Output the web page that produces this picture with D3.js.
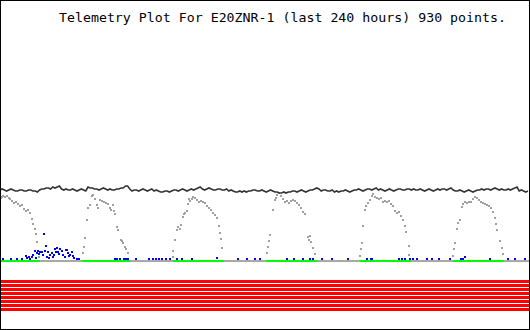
<!DOCTYPE html>
<html>
<head>
<meta charset="utf-8">
<script src="https://cdn.jsdelivr.net/npm/d3@7"></script>
<style>
  html, body { margin: 0; padding: 0; background: #fff; }
  svg { display: block; }
</style>
</head>
<body>
<svg id="chart" width="530" height="330"></svg>
<script>
// Telemetry for E20ZNR-1 over the last 240 hours (raw 0-255 counts)
const titleText = "Telemetry Plot For E20ZNR-1 (last 240 hours) 930 points.";

// Battery channel, one sample per hour (0..240 h)
const batteryStepHours = 1;
const batteryCounts = [
  70,71, 70,69, 70,71, 70,69, 69,70, 70,69, 69,70, 70,69, 69,68, 70,71,
  71,72, 72,71, 73,72, 73,74, 71,70, 71,70, 70,71, 70,69, 70,71, 70,69,
  73,72, 72,71, 71,70, 71,72, 71,70, 71,70, 70,71, 71,72, 72,74, 74,71,
  69,70, 70,69, 70,71, 70,69, 70,71, 69,70, 69,68, 68,69, 69,68, 69,70,
  70,69, 70,71, 70,69, 70,71, 70,71, 72,73, 71,70, 71,72, 71,70, 70,71,
  71,70, 70,71, 69,70, 69,68, 68,69, 68,69, 68,69, 69,70, 70,69, 69,70,
  69,68, 69,70, 69,68, 68,67, 67,68, 67,68, 68,69, 69,68, 69,70, 69,68,
  69,70, 70,71, 72,71, 69,70, 70,69, 69,70, 68,69, 68,69, 69,70, 69,68,
  69,70, 70,71, 70,69, 70,71, 71,70, 71,72, 70,71, 70,69, 70,71, 70,69,
  70,71, 71,70, 70,71, 71,70, 71,70, 70,71, 70,69, 70,71, 70,69, 70,71,
  70,71, 71,70, 71,72, 70,69, 69,70, 69,68, 69,70, 69,68, 69,70, 70,71,
  70,71, 71,70, 71,72, 71,70, 71,70, 70,71, 70,71, 72,73, 69,70, 69,68,
  69
];

// Solar channel readings: [hours, counts]
const solarHours = [
  0.0, 0.5, 0.9, 1.4, 2.3, 3.2, 4.1, 4.5, 5.5, 6.4, 7.3, 8.2, 9.1, 10.0, 10.9, 11.8, 12.7, 13.6, 14.5, 15.0, 15.9, 16.4, 16.8, 17.7,
  37.7, 38.2, 38.6, 39.5, 40.0, 40.9, 41.8, 42.3, 43.2, 44.1, 44.5, 45.5, 46.4, 47.3, 48.2, 49.1, 50.0, 50.5, 51.4, 51.8, 52.3, 53.2, 53.6, 55.0, 55.5, 55.9, 56.8, 57.3, 58.2,
  78.6, 78.6, 79.5, 80.5, 80.9, 81.8, 82.3, 83.2, 83.6, 84.1, 85.0, 85.5, 85.9, 86.4, 87.3, 87.7, 88.6, 89.5, 90.5, 91.4, 92.3, 93.2, 94.1, 95.0, 95.9, 96.8, 97.7, 98.6, 99.5, 100.0, 100.5, 100.9,
  121.4, 121.8, 122.3, 122.7, 124.1, 125.0, 125.5, 125.9, 126.8, 127.7, 128.6, 129.5, 130.5, 131.4, 132.3, 133.2, 134.1, 135.0, 135.9, 136.8, 137.7, 138.6, 140.0, 140.5, 140.9, 141.4, 142.3, 143.2,
  163.6, 164.1, 164.5, 165.0, 165.9, 166.4, 167.3, 168.2, 169.1, 169.5, 170.5, 171.4, 172.3, 173.2, 174.1, 175.0, 175.9, 176.8, 177.7, 178.6, 179.5, 180.5, 181.4, 182.3, 183.2, 184.1, 184.5, 185.9, 185.9,
  205.9, 206.4, 206.8, 207.7, 208.2, 209.1, 210.0, 210.5, 211.4, 212.3, 213.2, 214.1, 215.0, 215.9, 216.8, 217.7, 218.6, 219.5, 220.5, 221.4, 222.3, 223.2, 224.1, 225.0, 225.5, 225.9, 227.3, 228.2, 228.6
];
const solarCounts = [
  61, 62, 63, 64, 63, 64, 62, 61, 59, 57, 58, 56, 54, 55, 51, 49, 50, 47, 41, 36, 31, 26, 18, 3,
  7, 13, 22, 40, 52, 55, 64, 65, 61, 55, 52, 60, 59, 58, 57, 56, 52, 50, 55, 49, 46, 33, 30, 20, 19, 17, 13, 11, 7,
  3, 9, 20, 30, 33, 31, 35, 43, 46, 47, 49, 56, 61, 59, 61, 63, 62, 60, 58, 59, 58, 57, 54, 52, 50, 47, 45, 42, 34, 27, 21, 12,
  7, 13, 19, 25, 50, 60, 62, 65, 67, 64, 61, 58, 59, 57, 59, 60, 59, 57, 55, 52, 48, 46, 23, 20, 24, 18, 12, 6,
  4, 11, 17, 34, 50, 54, 57, 60, 64, 66, 63, 62, 61, 62, 58, 59, 58, 59, 56, 54, 49, 47, 48, 44, 40, 34, 28, 14, 5,
  4, 11, 17, 31, 37, 40, 53, 56, 58, 57, 58, 58, 61, 63, 62, 60, 58, 57, 56, 55, 54, 52, 48, 42, 36, 30, 19, 12, 6
];

// Load current channel readings: [hours, counts]
const loadHours = [
  1.4, 5.0, 7.7, 10.0, 11.8, 12.3, 13.2, 13.6, 14.5, 15.0, 15.9, 16.4, 16.8, 17.3, 17.7, 18.2, 19.1, 19.5, 20.0, 20.5,
  20.9, 21.4, 21.8, 22.3, 22.7, 23.6, 24.1, 24.5, 25.0, 25.5, 25.9, 26.4, 26.8, 27.3, 28.2, 28.6, 29.5, 30.0, 30.5, 30.9,
  31.4, 31.8, 32.7, 33.2, 33.6, 35.0, 35.9,
  52.3, 53.2, 54.5, 56.4, 57.3, 58.2, 61.8, 67.7, 69.5, 70.9, 72.3, 73.6, 75.5, 77.3, 80.5, 82.7, 87.3, 98.6, 108.2,
  112.3, 115.9, 118.2, 130.5, 133.6, 137.7, 140.9, 142.3, 146.4, 150.9, 158.2, 166.8, 168.6, 169.1, 181.4, 182.7, 184.1,
  186.4, 187.7, 189.5, 194.1, 196.4, 199.5, 204.5, 209.5, 210.5, 211.4, 222.7, 230.9, 234.1, 238.6
];
const loadCounts = [
  1, 1, 1, 1, 4, 2, 3, 1, 3, 5, 9, 2, 7, 9, 6, 8, 8, 5, 26, 9,
  14, 3, 8, 2, 5, 7, 3, 5, 11, 8, 12, 8, 6, 11, 9, 5, 3, 10, 10, 7,
  4, 5, 8, 4, 2, 1, 1,
  1, 1, 1, 1, 1, 1, 1, 1, 1, 1, 1, 1, 1, 1, 1, 1, 1, 2, 1,
  1, 1, 1, 1, 1, 1, 1, 1, 1, 1, 1, 1, 1, 1, 1, 1, 1,
  1, 1, 1, 1, 1, 1, 1, 1, 1, 3, 1, 1, 1, 1
];

// Charging status: intervals (hours) where the charger reported "on"
const chargeOnStart = [0, 37.3, 78.6, 120.9, 163.6, 205.9];
const chargeOnEnd   = [18.2, 59.1, 101.8, 144.1, 186.8, 229.1];

// Eight digital status bits, all reporting 0 for the whole period
const bitNames  = ["B1", "B2", "B3", "B4", "B5", "B6", "B7", "B8"];
const bitStates = [0, 0, 0, 0, 0, 0, 0, 0];

const W = 530, H = 330;
const svg = d3.select("#chart");

const x = d3.scaleLinear().domain([0, 240]).range([0, 528]);
const y = d3.scaleLinear().domain([0, 255]).range([260, 5]);
const bitY = d3.scaleBand().domain(bitNames).range([280, 311]).paddingInner(0.25).paddingOuter(0);

svg.append("rect").attr("width", W).attr("height", H).attr("fill", "#fff");

// Title
svg.append("text")
  .attr("x", 59).attr("y", 22)
  .attr("font-family", "'DejaVu Sans Mono', 'Liberation Mono', monospace")
  .attr("font-size", 13)
  .attr("textLength", 447)
  .attr("lengthAdjust", "spacingAndGlyphs")
  .attr("fill", "#000")
  .text(titleText);

// Charger status baseline: grey when off, green when on
svg.append("rect")
  .attr("x", x(0)).attr("y", y(0))
  .attr("width", x(240) - x(0) + 2).attr("height", 2)
  .attr("fill", "#a8a8a8");
svg.append("g").selectAll("rect")
  .data(d3.zip(chargeOnStart, chargeOnEnd))
  .join("rect")
  .attr("x", d => x(d[0]))
  .attr("y", y(0))
  .attr("width", d => x(d[1]) - x(d[0]))
  .attr("height", 2)
  .attr("fill", "#00ff00");

// Solar readings as grey dots
svg.append("g").selectAll("rect")
  .data(d3.zip(solarHours, solarCounts))
  .join("rect")
  .attr("x", d => Math.round(x(d[0])) - 1)
  .attr("y", d => Math.round(y(d[1])) - 1)
  .attr("width", 2).attr("height", 2)
  .attr("fill", "#a0a0a0");

// Load readings as blue dots
svg.append("g").selectAll("rect")
  .data(d3.zip(loadHours, loadCounts))
  .join("rect")
  .attr("x", d => Math.round(x(d[0])) - 1)
  .attr("y", d => Math.round(y(d[1])) - 1)
  .attr("width", 2).attr("height", 2)
  .attr("fill", "#0000ff");

// Battery trace
const line = d3.line()
  .x((d, i) => x(i * batteryStepHours))
  .y(d => y(d));
svg.append("path")
  .datum(batteryCounts)
  .attr("d", line)
  .attr("fill", "none")
  .attr("stroke", "#333")
  .attr("stroke-width", 1.6)
  .attr("stroke-linejoin", "miter");

// Digital bit stripes (red = 0)
svg.append("g").selectAll("rect")
  .data(d3.zip(bitNames, bitStates))
  .join("rect")
  .attr("x", 0)
  .attr("y", d => bitY(d[0]))
  .attr("width", W)
  .attr("height", bitY.bandwidth())
  .attr("fill", d => d[1] ? "#00ff00" : "#ff0000");

// Frame
svg.append("rect")
  .attr("x", 0.5).attr("y", 0.5)
  .attr("width", W - 1).attr("height", H - 1)
  .attr("fill", "none").attr("stroke", "#000");
</script>
</body>
</html>
